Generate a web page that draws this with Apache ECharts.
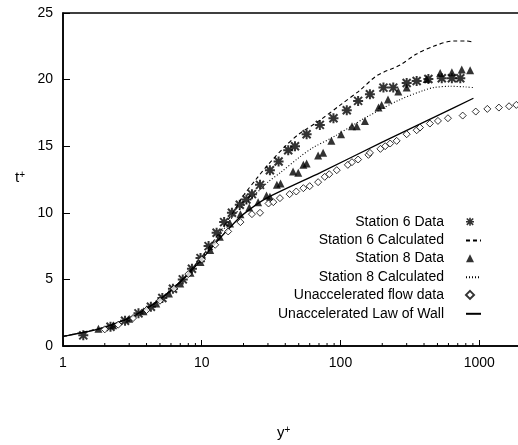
<!DOCTYPE html>
<html><head><meta charset="utf-8">
<script src="https://cdn.jsdelivr.net/npm/echarts@6/dist/echarts.min.js"></script>
<style>html,body{margin:0;padding:0;background:#fff}#c{width:518px;height:445px}</style>
</head><body><div id="c"></div>
<script>
// ---- data ----
const xTickLabels = ['1', '10', '100', '1000'];
const minorTickValues = [2,3,4,5,6,7,8,9,20,30,40,50,60,70,80,90,200,300,400,500,600,700,800,900];
const yTickValues = [0, 5, 10, 15, 20, 25];

const station6Data = [[1.4,0.8],[2.2,1.45],[2.8,1.9],[3.5,2.45],[4.3,2.95],[5.2,3.6],[6.2,4.3],[7.3,5.0],[8.5,5.8],[9.8,6.6],[11.2,7.5],[12.8,8.5],[14.5,9.3],[16.5,10.0],[18.8,10.6],[21,11.0],[23,11.4],[26.3,12.1],[31,13.2],[35.8,13.85],[42,14.7],[47,15.0],[57,15.9],[71,16.6],[89,17.1],[111,17.7],[134,18.4],[163,18.9],[204,19.4],[240,19.4],[300,19.75],[354,19.9],[430,20.05],[537,20.1],[635,20.1],[730,20.1]];
const station6Calc = [[1,0.72],[2,1.42],[3,2.1],[5,3.5],[7,4.85],[10,6.7],[13,8.3],[17,10.1],[20,11.3],[25,12.6],[30,13.6],[40,15.0],[50,15.9],[70,16.9],[100,18.1],[138,19.2],[183,20.3],[269,21.1],[350,21.9],[468,22.5],[651,22.9],[800,22.9],[908,22.8]];
const station8Data = [[1.8,1.3],[2.3,1.55],[3.0,2.05],[3.8,2.6],[4.7,3.2],[5.8,3.95],[7.0,4.7],[8.3,5.5],[9.8,6.3],[11.5,7.2],[13.5,8.2],[16,9.2],[19,9.9],[22,10.4],[25.5,10.8],[29.3,11.3],[31,11.2],[34.8,12.1],[37,12.2],[45.5,13.1],[49.6,13.0],[54,13.6],[57,13.7],[69,14.3],[75,14.5],[86,15.4],[101,15.9],[121,16.5],[131,16.5],[150,16.9],[188,17.9],[198,18.1],[220,18.5],[261,19.1],[300,19.4],[418,20.05],[523,20.5],[635,20.55],[748,20.75],[860,20.7]];
const station8Calc = [[1,0.72],[2,1.42],[3,2.1],[5,3.5],[7,4.8],[10,6.6],[13,8.1],[17,9.8],[22.3,11.0],[30,12.3],[36.7,13.0],[51,14.2],[63.5,14.9],[89,15.7],[155,17.2],[269,18.5],[400,19.2],[468,19.4],[617,19.5],[800,19.45],[908,19.4]];
const unaccelData = [[2.0,1.25],[2.5,1.6],[3.2,2.1],[4.0,2.7],[5.0,3.4],[6.3,4.3],[8.0,5.4],[10,6.5],[12.5,7.6],[15.5,8.6],[19,9.3],[23,9.9],[26.3,10.0],[30.3,10.7],[32.8,10.8],[36.6,11.1],[43,11.4],[48,11.6],[54,11.85],[60,12.0],[69,12.3],[77,12.7],[83,12.9],[94,13.2],[113,13.6],[121,13.8],[134,14.0],[159,14.35],[163,14.5],[194,14.8],[210,15.0],[228,15.2],[254,15.4],[300,15.9],[354,16.2],[374,16.4],[441,16.7],[504,16.9],[595,17.1],[760,17.3],[944,17.6],[1144,17.8],[1386,17.9],[1640,18.0],[1850,18.1]];
const lawOfWall = [[1,0.72],[1.65,1.17],[2,1.42],[3,2.1],[4,2.8],[5,3.5],[7,4.8],[10,6.5],[13,7.9],[17,9.2],[20,9.9],[29.3,11.1],[71,13.0],[200,15.3],[500,17.3],[908,18.6]];

const seriesNames = ['Station 6 Data','Station 6 Calculated','Station 8 Data','Station 8 Calculated','Unaccelerated flow data','Unaccelerated Law of Wall'];

// ---- chart ----
const asterisk = 'path://M0 4L10 4L10 6L0 6Z M4 0L6 0L6 10L4 10Z M0.3 1.7L1.7 0.3L9.7 8.3L8.3 9.7Z M8.3 0.3L9.7 1.7L1.7 9.7L0.3 8.3Z';
const FONT = 'Liberation Sans';
const legendText = {fontFamily: FONT, fontSize: 14, color: '#000', lineHeight: 14, padding: [0, 17, 0, 0]};
const chart = echarts.init(document.getElementById('c'), null, {renderer: 'canvas'});
chart.setOption({
  animation: false,
  backgroundColor: '#fff',
  textStyle: {fontFamily: FONT, color: '#000'},
  grid: {left: 63, top: 13, width: 458, height: 333, outerBoundsMode: 'none', containLabel: false, show: true, borderColor: '#000', borderWidth: 1.5, backgroundColor: 'transparent'},
  xAxis: {
    type: 'log', logBase: 10, min: 1, max: 2000,
    axisLine: {lineStyle: {color: '#000', width: 1.5}},
    axisTick: {inside: true, length: 6, lineStyle: {color: '#000'}},
    axisLabel: {margin: 10, fontSize: 14, fontFamily: FONT, color: '#000',
      formatter: function (v) { const s = String(Math.round(v)); return xTickLabels.indexOf(s) >= 0 ? s : ''; }},
    splitLine: {show: false}
  },
  yAxis: {
    type: 'value', min: 0, max: 25, interval: 5,
    axisLine: {show: true, lineStyle: {color: '#000', width: 1.5}},
    axisTick: {show: true, inside: true, length: 7, lineStyle: {color: '#000'}},
    axisLabel: {margin: 10, fontSize: 14, fontFamily: FONT, color: '#000',
      formatter: function (v) { return yTickValues.indexOf(v) >= 0 ? String(v) : ''; }},
    splitLine: {show: false}
  },
  legend: [
    {
      data: [seriesNames[0], seriesNames[2], seriesNames[4]],
      orient: 'vertical', align: 'right', padding: 0,
      right: 43, top: 214.7,
      itemWidth: 8, itemHeight: 8, itemGap: 22.6, symbolKeepAspect: true,
      textStyle: legendText, selectedMode: false
    },
    {
      data: [seriesNames[1], seriesNames[3], seriesNames[5]],
      orient: 'vertical', align: 'right', padding: 0,
      right: 36, top: 233.6,
      itemWidth: 15, itemHeight: 8, itemGap: 22.6,
      textStyle: {fontFamily: FONT, fontSize: 14, color: '#000', lineHeight: 14, padding: [0, 17, 0, 0]}, selectedMode: false
    }
  ],
  graphic: [
    {type: 'text', left: 15, top: 170, style: {text: 't{s|+}', font: '15px "Liberation Sans"', fill: '#000', rich: {s: {fontSize: 10, verticalAlign: 'top', padding: [0,0,6,0]}}}},
    {type: 'text', left: 277, top: 425, style: {text: 'y{s|+}', font: '15px "Liberation Sans"', fill: '#000', rich: {s: {fontSize: 10, verticalAlign: 'top', padding: [0,0,6,0]}}}}
  ],
  series: [
    {name: seriesNames[0], type: 'scatter', data: station6Data, symbol: asterisk, symbolSize: 10, itemStyle: {color: '#000'}, z: 4},
    {name: seriesNames[1], type: 'line', data: station6Calc, showSymbol: false, symbol: 'none', smooth: 0.3, itemStyle: {color: 'rgba(0,0,0,0)', borderColor: 'rgba(0,0,0,0)'}, lineStyle: {color: '#000', width: 1.1, type: [4, 3]}, z: 3},
    {name: seriesNames[2], type: 'scatter', data: station8Data, symbol: 'triangle', symbolSize: 8, itemStyle: {color: '#000'}, z: 4},
    {name: seriesNames[3], type: 'line', data: station8Calc, showSymbol: false, symbol: 'none', smooth: 0.3, itemStyle: {color: 'rgba(0,0,0,0)', borderColor: 'rgba(0,0,0,0)'}, lineStyle: {color: '#000', width: 1.1, type: [1, 2]}, z: 3},
    {name: seriesNames[4], type: 'scatter', data: unaccelData, symbol: 'diamond', symbolSize: 7, itemStyle: {color: '#fff', borderColor: '#000', borderWidth: 1}, z: 4},
    {name: seriesNames[5], type: 'line', data: lawOfWall, showSymbol: false, symbol: 'none', smooth: 0.2, itemStyle: {color: 'rgba(0,0,0,0)', borderColor: 'rgba(0,0,0,0)'}, lineStyle: {color: '#000', width: 1.3}, z: 3},
    {name: 'minorTicks', type: 'custom', silent: true, data: minorTickValues.map(function (v) { return [v, 0]; }), z: 5,
      renderItem: function (params, api) {
        const p = api.coord([api.value(0), 0]);
        return {type: 'line', shape: {x1: p[0], y1: p[1], x2: p[0], y2: p[1] - 3}, style: {stroke: '#000', lineWidth: 1}};
      }}
  ]
});
</script></body></html>
